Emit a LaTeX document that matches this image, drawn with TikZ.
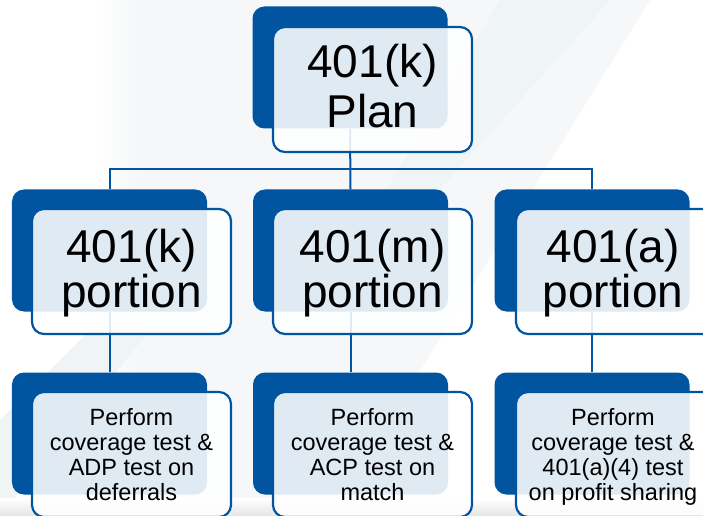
\documentclass[tikz,border=0pt]{standalone}
\usepackage{fontspec}
\setmainfont{Liberation Sans}
\definecolor{planblue}{RGB}{0,84,160}
\definecolor{haze}{RGB}{245,247,248}
\definecolor{hazeb}{RGB}{239,244,245}
\begin{document}
\begin{tikzpicture}[x=1bp,y=-1bp,
  back/.style={rectangle, fill=planblue, rounded corners=12bp, inner sep=0,
    minimum width=195bp, minimum height=122bp},
  front/.style={rectangle, draw=planblue, line width=2.2bp, fill=white,
    fill opacity=0.88, rounded corners=12bp, inner sep=0,
    minimum width=199bp, minimum height=125bp},
  link/.style={draw=planblue, line width=2bp},
  bigtxt/.style={inner sep=0, align=center, anchor=base, text=black},
  smalltxt/.style={inner sep=0, align=center, anchor=base, text=black,
    font=\fontsize{23.5bp}{24.7bp}\selectfont}
]
% page and soft background
\useasboundingbox (0,0) rectangle (703,516);
\fill[white] (0,0) rectangle (703,516);
\shade[left color=white, right color=haze] (95,0) rectangle (140,516);
\fill[haze] (140,0) -- (650,0) -- (330,516) -- (140,516) -- cycle;
\fill[hazeb] (500,0) -- (610,0) -- (430,200) -- (380,200) -- cycle;
\fill[hazeb] (0,516) -- (0,420) -- (90,330) -- (150,330) -- cycle;
\shade[top color=white, bottom color=black!10] (0,498) rectangle (703,516);

% blue backing panels
\node[back] (plan) at (350,67.5) {};
\node[back] (k)  at (109.5,250.5) {};
\node[back] (m)  at (350.5,250.5) {};
\node[back] (a)  at (592,250.5) {};
\node[back] (kd) at (109.5,433.5) {};
\node[back] (md) at (350.5,433.5) {};
\node[back] (ad) at (592,433.5) {};

% connectors
\coordinate (bus) at (350,169);
\draw[link] (plan.south) -- (m.north);
\draw[link] (k.north) |- (bus) -| (a.north);
\draw[link] (k.south) -- (kd.north);
\draw[link] (m.south) -- (md.north);
\draw[link] (a.south) -- (ad.north);

% light front cards
\node[front] (planf) at (372.5,89.5) {};
\node[front] (kf)  at (131.5,271.5) {};
\node[front] (mf)  at (372.5,271.5) {};
\node[front] (af)  at (615.5,271.5) {};
\node[front] (kdf) at (131.5,454.5) {};
\node[front] (mdf) at (372.5,454.5) {};
\node[front] (adf) at (615.5,454.5) {};

% labels (anchored at the baseline of their last line)
\node[bigtxt, font=\fontsize{46bp}{50bp}\selectfont] (plant) at (372.5,128) {401(k)\\Plan};
\node[bigtxt, font=\fontsize{46bp}{44bp}\selectfont] (kt) at (131.5,307) {401(k)\\portion};
\node[bigtxt, font=\fontsize{46bp}{44bp}\selectfont] (mt) at (372.5,307) {401(m)\\portion};
\node[bigtxt, font=\fontsize{46bp}{44bp}\selectfont] (at) at (613,307) {401(a)\\portion};
\node[smalltxt] (kdt) at (131.5,500) {Perform\\coverage test \&\\ADP test on\\deferrals};
\node[smalltxt] (mdt) at (372.5,500) {Perform\\coverage test \&\\ACP test on\\match};
\node[smalltxt] (adt) at (613,500) {Perform\\coverage test \&\\401(a)(4) test\\on profit sharing};
\end{tikzpicture}
\end{document}
